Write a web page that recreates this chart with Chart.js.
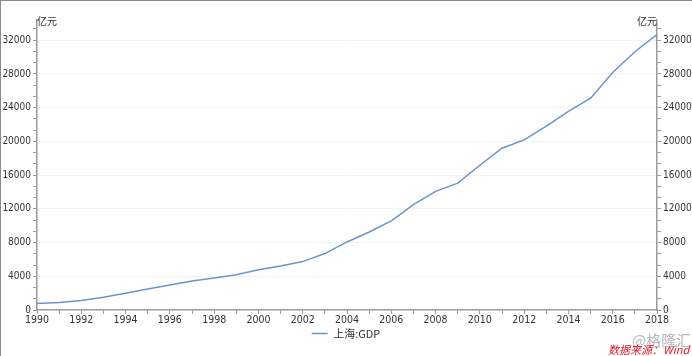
<!DOCTYPE html>
<html>
<head>
<meta charset="utf-8">
<script src="https://cdn.jsdelivr.net/npm/chart.js@4.4.1/dist/chart.umd.min.js"></script>
<style>
  html, body { margin:0; padding:0; background:#fff; }
  #wrap { position:relative; width:692px; height:356px; overflow:hidden; }
  #frame { position:absolute; left:0; top:0; width:692px; height:356px; box-sizing:border-box;
           border-left:1px solid #8a8a8a; border-top:1px solid #8a8a8a; pointer-events:none; }
  canvas { position:absolute; left:0; top:0; }
  .wm { position:absolute; left:632px; top:332px; font:15px/15px 'Noto Sans CJK SC', sans-serif; color:#b8b8b8; white-space:nowrap; }
  .src { position:absolute; left:608px; top:344px; font:italic 11px/11px 'Noto Sans CJK SC', sans-serif; color:#e8141e; white-space:nowrap; }
</style>
</head>
<body>
<div id="wrap">
  <canvas id="c" width="692" height="356"></canvas>
  <div id="frame"></div>
  <div class="wm">@格隆汇</div>
  <div class="src">数据来源：Wind</div>
</div>
<script>
const years = [1990,1991,1992,1993,1994,1995,1996,1997,1998,1999,2000,2001,2002,2003,2004,2005,2006,2007,2008,2009,2010,2011,2012,2013,2014,2015,2016,2017,2018];
const gdp = [782,894,1114,1519,1991,2499,2958,3439,3801,4189,4771,5210,5741,6694,8073,9248,10572,12494,14070,15046,17166,19196,20182,21818,23568,25123,28179,30633,32680];
const seriesName = '上海:GDP';
const unitLabel = '亿元';
const yMajorStep = 4000;
const yMinorPerMajor = 3;
const yMax = 34400;

const FONT = "'Liberation Sans Narrow', 'DejaVu Sans Condensed', 'Liberation Sans', sans-serif";
const CJK = "'Noto Sans CJK SC', sans-serif";
const axisColor = '#9a9a9a';
const tickText = '#333333';

function isMajor(v) { return Math.abs(v / yMajorStep - Math.round(v / yMajorStep)) < 1e-6; }

function buildYTicks(scale) {
  const t = [];
  const step = yMajorStep / yMinorPerMajor;
  for (let i = 0; i * step <= yMax + 1e-6; i++) t.push({ value: i * step });
  scale.ticks = t;
}

const unitPlugin = {
  id: 'unitPlugin',
  afterDraw(chart) {
    const ctx = chart.ctx;
    const yl = chart.scales.y, yr = chart.scales.y2;
    ctx.save();
    ctx.font = '10px ' + CJK;
    ctx.fillStyle = tickText;
    ctx.textBaseline = 'middle';
    ctx.textAlign = 'left';
    ctx.fillText(unitLabel, yl.right, yl.top + 1);
    ctx.textAlign = 'right';
    ctx.fillText(unitLabel, yr.left, yr.top + 1);
    ctx.restore();
  }
};

const yCommon = {
  type: 'linear',
  min: 0,
  max: yMax,
  afterBuildTicks: buildYTicks,
  ticks: {
    autoSkip: false,
    color: tickText,
    font: { family: FONT, size: 10 },
    padding: 2,
    callback: (v) => isMajor(v) ? String(Math.round(v)) : ''
  },
  border: { display: true, color: axisColor, width: 1.5 },
};

new Chart(document.getElementById('c'), {
  type: 'line',
  data: {
    datasets: [{
      label: seriesName,
      data: years.map((y, i) => ({ x: y, y: gdp[i] })),
      borderColor: '#6b93cf',
      backgroundColor: '#6b93cf',
      borderWidth: 1.5,
      pointRadius: 0,
      tension: 0,
      yAxisID: 'y'
    }]
  },
  options: {
    responsive: false,
    animation: false,
    devicePixelRatio: 1,
    layout: { padding: { top: 20, left: 0, right: 0, bottom: 7 } },
    plugins: {
      legend: {
        position: 'bottom',
        labels: {
          usePointStyle: true,
          pointStyle: 'line',
          pointStyleWidth: 16,
          color: tickText,
          font: { family: CJK, size: 11 },
          padding: 2
        }
      },
      tooltip: { enabled: false }
    },
    scales: {
      x: {
        type: 'linear',
        min: 1990,
        max: 2018,
        ticks: {
          stepSize: 1,
          autoSkip: false,
          maxRotation: 0,
          color: tickText,
          font: { family: FONT, size: 10.5 },
          padding: 0,
          callback: (v) => (v % 2 === 0 ? String(v) : '')
        },
        grid: { drawOnChartArea: false, drawTicks: true, tickLength: 4, tickColor: axisColor },
        border: { display: true, color: axisColor, width: 1.5 },
        afterFit: (s) => { s.height = 16; }
      },
      y: Object.assign({}, yCommon, {
        position: 'left',
        grid: {
          drawOnChartArea: true,
          color: (c) => (c.tick && isMajor(c.tick.value) && c.tick.value > 0) ? '#f2f2f2' : 'rgba(0,0,0,0)',
          lineWidth: 1,
          drawTicks: true,
          tickLength: 4,
          tickColor: axisColor
        },
        afterFit: (s) => { s.width = 37; }
      }),
      y2: Object.assign({}, yCommon, {
        position: 'right',
        grid: { drawOnChartArea: false, drawTicks: true, tickLength: 4, tickColor: axisColor },
        afterFit: (s) => { s.width = 35; }
      })
    }
  },
  plugins: [unitPlugin]
});
</script>
</body>
</html>
